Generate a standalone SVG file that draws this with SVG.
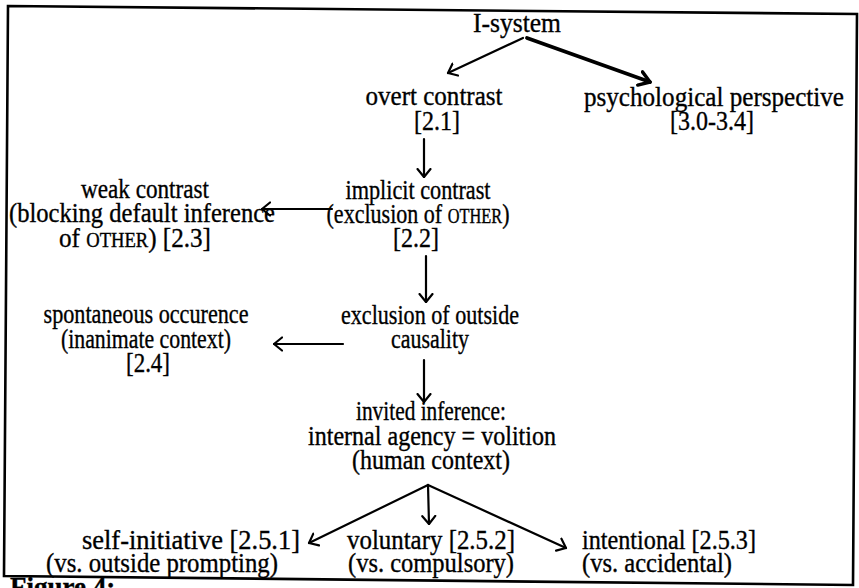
<svg xmlns="http://www.w3.org/2000/svg" width="859" height="588" viewBox="0 0 859 588">
<style>
text{font-family:"Liberation Serif","Times New Roman",serif;font-size:27px;fill:#000;stroke:#000;stroke-width:0.35;text-anchor:middle}
.sc{font-size:20px}
.l{text-anchor:start}
.r{text-anchor:end}
.b{font-weight:bold}
.c{stroke:#000;stroke-width:2.2;fill:none;stroke-linecap:round}
.thick{stroke-width:3.8}
</style>
<defs>
<marker id="ah" viewBox="0 0 10 16" refX="9" refY="8" markerWidth="10" markerHeight="16" markerUnits="userSpaceOnUse" orient="auto">
<path d="M1,1.5 L9,8 L1,14.5" fill="none" stroke="#000" stroke-width="2.2" stroke-linecap="round" stroke-linejoin="round"/>
</marker>
<marker id="ahb" viewBox="0 0 14 18" refX="12" refY="9" markerWidth="14" markerHeight="18" markerUnits="userSpaceOnUse" orient="auto">
<path d="M1.5,2 L12,9 L1.5,16" fill="none" stroke="#000" stroke-width="3.4" stroke-linecap="round" stroke-linejoin="round"/>
</marker>
</defs>
<rect width="859" height="588" fill="#fff"/>
<polygon points="8,6 857,14 853,585 4,576" fill="none" stroke="#000" stroke-width="2.6"/>
<g id="connectors">
<line class="c" x1="523" y1="38" x2="448" y2="73" marker-end="url(#ah)"/>
<line class="c thick" x1="527" y1="38" x2="650" y2="82" marker-end="url(#ahb)"/>
<line class="c" x1="424" y1="139" x2="424" y2="177" marker-end="url(#ah)"/>
<line class="c" x1="332" y1="209" x2="262" y2="209" marker-end="url(#ah)"/>
<line class="c" x1="426" y1="256" x2="426" y2="302" marker-end="url(#ah)"/>
<line class="c" x1="343" y1="344" x2="274" y2="344" marker-end="url(#ah)"/>
<line class="c" x1="424" y1="360" x2="424" y2="402" marker-end="url(#ah)"/>
<line class="c" x1="428" y1="485" x2="309" y2="543" marker-end="url(#ah)"/>
<line class="c" x1="428" y1="485" x2="429" y2="524" marker-end="url(#ah)"/>
<line class="c" x1="428" y1="485" x2="566" y2="548" marker-end="url(#ah)"/>
</g>
<g id="n-isystem"><text x="517" y="32" textLength="88" lengthAdjust="spacingAndGlyphs">I-system</text></g>
<g id="n-overt"><text x="434" y="105" textLength="137" lengthAdjust="spacingAndGlyphs">overt contrast</text><text x="437" y="130" textLength="46" lengthAdjust="spacingAndGlyphs">[2.1]</text></g>
<g id="n-psych"><text x="714" y="106" textLength="260" lengthAdjust="spacingAndGlyphs">psychological perspective</text><text x="712" y="130" textLength="84" lengthAdjust="spacingAndGlyphs">[3.0-3.4]</text></g>
<g id="n-implicit"><text x="418" y="199" textLength="145" lengthAdjust="spacingAndGlyphs">implicit contrast</text><text x="418" y="223" textLength="183" lengthAdjust="spacingAndGlyphs">(exclusion of <tspan class="sc">OTHER</tspan>)</text><text x="416" y="247" textLength="46" lengthAdjust="spacingAndGlyphs">[2.2]</text></g>
<g id="n-weak"><text x="145" y="198" textLength="128" lengthAdjust="spacingAndGlyphs">weak contrast</text><text x="142" y="222" textLength="266" lengthAdjust="spacingAndGlyphs">(blocking default inference</text><text x="135" y="247" textLength="152" lengthAdjust="spacingAndGlyphs">of <tspan class="sc">OTHER</tspan>) [2.3]</text></g>
<g id="n-exclusion"><text x="430" y="324" textLength="178" lengthAdjust="spacingAndGlyphs">exclusion of outside</text><text x="430" y="348" textLength="78" lengthAdjust="spacingAndGlyphs">causality</text></g>
<g id="n-spont"><text x="146" y="323" textLength="205" lengthAdjust="spacingAndGlyphs">spontaneous occurence</text><text x="146" y="348" textLength="170" lengthAdjust="spacingAndGlyphs">(inanimate context)</text><text x="148" y="372" textLength="44" lengthAdjust="spacingAndGlyphs">[2.4]</text></g>
<g id="n-invited"><text x="431" y="420" textLength="150" lengthAdjust="spacingAndGlyphs">invited inference:</text><text x="432" y="445" textLength="248" lengthAdjust="spacingAndGlyphs">internal agency = volition</text><text x="431" y="469" textLength="158" lengthAdjust="spacingAndGlyphs">(human context)</text></g>
<g id="n-self"><text class="r" x="300" y="549" textLength="218" lengthAdjust="spacingAndGlyphs">self-initiative [2.5.1]</text><text class="r" x="278" y="572" textLength="232" lengthAdjust="spacingAndGlyphs">(vs. outside prompting)</text></g>
<g id="n-vol"><text x="431" y="549" textLength="168" lengthAdjust="spacingAndGlyphs">voluntary [2.5.2]</text><text x="431" y="572" textLength="166" lengthAdjust="spacingAndGlyphs">(vs. compulsory)</text></g>
<g id="n-int"><text class="l" x="582" y="549" textLength="174" lengthAdjust="spacingAndGlyphs">intentional [2.5.3]</text><text class="l" x="582" y="572" textLength="150" lengthAdjust="spacingAndGlyphs">(vs. accidental)</text></g>
<text class="l b" x="10" y="596">Figure 4:</text>
</svg>
